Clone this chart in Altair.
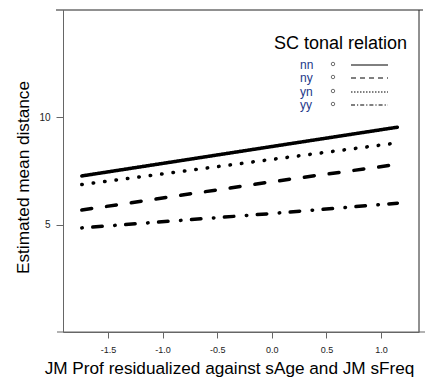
import altair as alt
import pandas as pd

# ---- data ----
series = ["nn", "ny", "yn", "yy"]
x_vals = [-1.74, 0.0, 1.15]
y_nn = [7.27, 8.64, 9.54]
y_ny = [5.68, 7.00, 7.81]
y_yn = [6.87, 8.04, 8.81]
y_yy = [4.85, 5.52, 6.00]
x_ticks = [-1.5, -1.0, -0.5, 0.0, 0.5, 1.0]
y_ticks = [5, 10]

rows = []
for s, ys in zip(series, [y_nn, y_ny, y_yn, y_yy]):
    for x, y in zip(x_vals, ys):
        rows.append({"series": s, "x": x, "y": y})
df = pd.DataFrame(rows)
one = pd.DataFrame({"k": [0]})

FONT = "Liberation Sans"
W, H = 356, 322

dash_big = [[1, 0], [10, 15], [0.5, 11], [0.5, 10.5, 9.5, 12.5]]
dash_small = [[1, 0], [5, 4], [1.5, 1.5], [4, 2, 1.2, 2]]

xscale = alt.Scale(domain=[-1.912, 1.348], nice=False, zero=False)
yscale = alt.Scale(domain=[0, 15], nice=False, zero=False)

lines = alt.Chart(df).mark_line(color="black", strokeWidth=3.5, strokeCap="round").encode(
    x=alt.X("x:Q", scale=xscale,
            axis=alt.Axis(values=x_ticks, format=".1f", grid=False,
                          labelExpr="replace(datum.label, '\u2212', '-')",
                          title="JM Prof residualized against sAge and JM sFreq",
                          titleFont=FONT, titleFontSize=17.2, titleFontWeight="normal",
                          titleColor="black", titleX=166, titleY=41,
                          titleBaseline="alphabetic", titleAlign="center",
                          labelFont=FONT, labelFontSize=9, labelColor="#222",
                          labelPadding=7, tickSize=6, tickColor="#666",
                          domainColor="#666", labelBaseline="top")),
    y=alt.Y("y:Q", scale=yscale,
            axis=alt.Axis(values=y_ticks, grid=False,
                          title="Estimated mean distance",
                          titleFont=FONT, titleFontSize=17.2, titleFontWeight="normal",
                          titleColor="black", titleX=-35, titleY=167,
                          titleBaseline="alphabetic", titleAlign="center", titleAngle=270,
                          labelFont=FONT, labelFontSize=10, labelColor="#222",
                          labelPadding=6, tickSize=7, tickColor="#666",
                          domainColor="#666")),
    strokeDash=alt.StrokeDash("series:N", scale=alt.Scale(domain=series, range=dash_big), legend=None),
    detail="series:N",
)

# frame lines (top and right black, bottom extended)
top_line = alt.Chart(one).mark_rule(color="#222", strokeWidth=1).encode(
    x=alt.value(-7), x2=alt.value(360), y=alt.value(0))
right_line = alt.Chart(one).mark_rule(color="#222", strokeWidth=1).encode(
    x=alt.value(W), y=alt.value(0), y2=alt.value(H))
bottom_line = alt.Chart(one).mark_rule(color="#666", strokeWidth=1).encode(
    x=alt.value(-6), x2=alt.value(362), y=alt.value(H))

# manual legend
leg_title = alt.Chart(one).mark_text(
    text="SC tonal relation", font=FONT, fontSize=18, align="left",
    baseline="alphabetic", color="black").encode(x=alt.value(211), y=alt.value(39))

legend_layers = [leg_title]
row_y = [55, 68, 82, 95]
for s, ry, ds in zip(series, row_y, dash_small):
    legend_layers.append(alt.Chart(one).mark_text(
        text=s, font=FONT, fontSize=12, align="left", baseline="middle",
        color="#24388a").encode(x=alt.value(237), y=alt.value(ry)))
    legend_layers.append(alt.Chart(one).mark_point(
        shape="circle", size=12, filled=False, color="#333", strokeWidth=1).encode(
        x=alt.value(270), y=alt.value(ry - 1)))
    legend_layers.append(alt.Chart(one).mark_rule(
        color="black", strokeWidth=1, strokeDash=ds).encode(
        x=alt.value(288), x2=alt.value(325), y=alt.value(ry)))

chart = alt.layer(lines, top_line, right_line, bottom_line, *legend_layers).properties(
    width=W, height=H,
    autosize=alt.AutoSizeParams(type="none"),
    padding={"left": 63, "top": 10, "right": 23, "bottom": 53},
    background="white",
).configure_view(stroke=None)

chart.save("out.html", embed_options={"renderer": "svg", "actions": False})
